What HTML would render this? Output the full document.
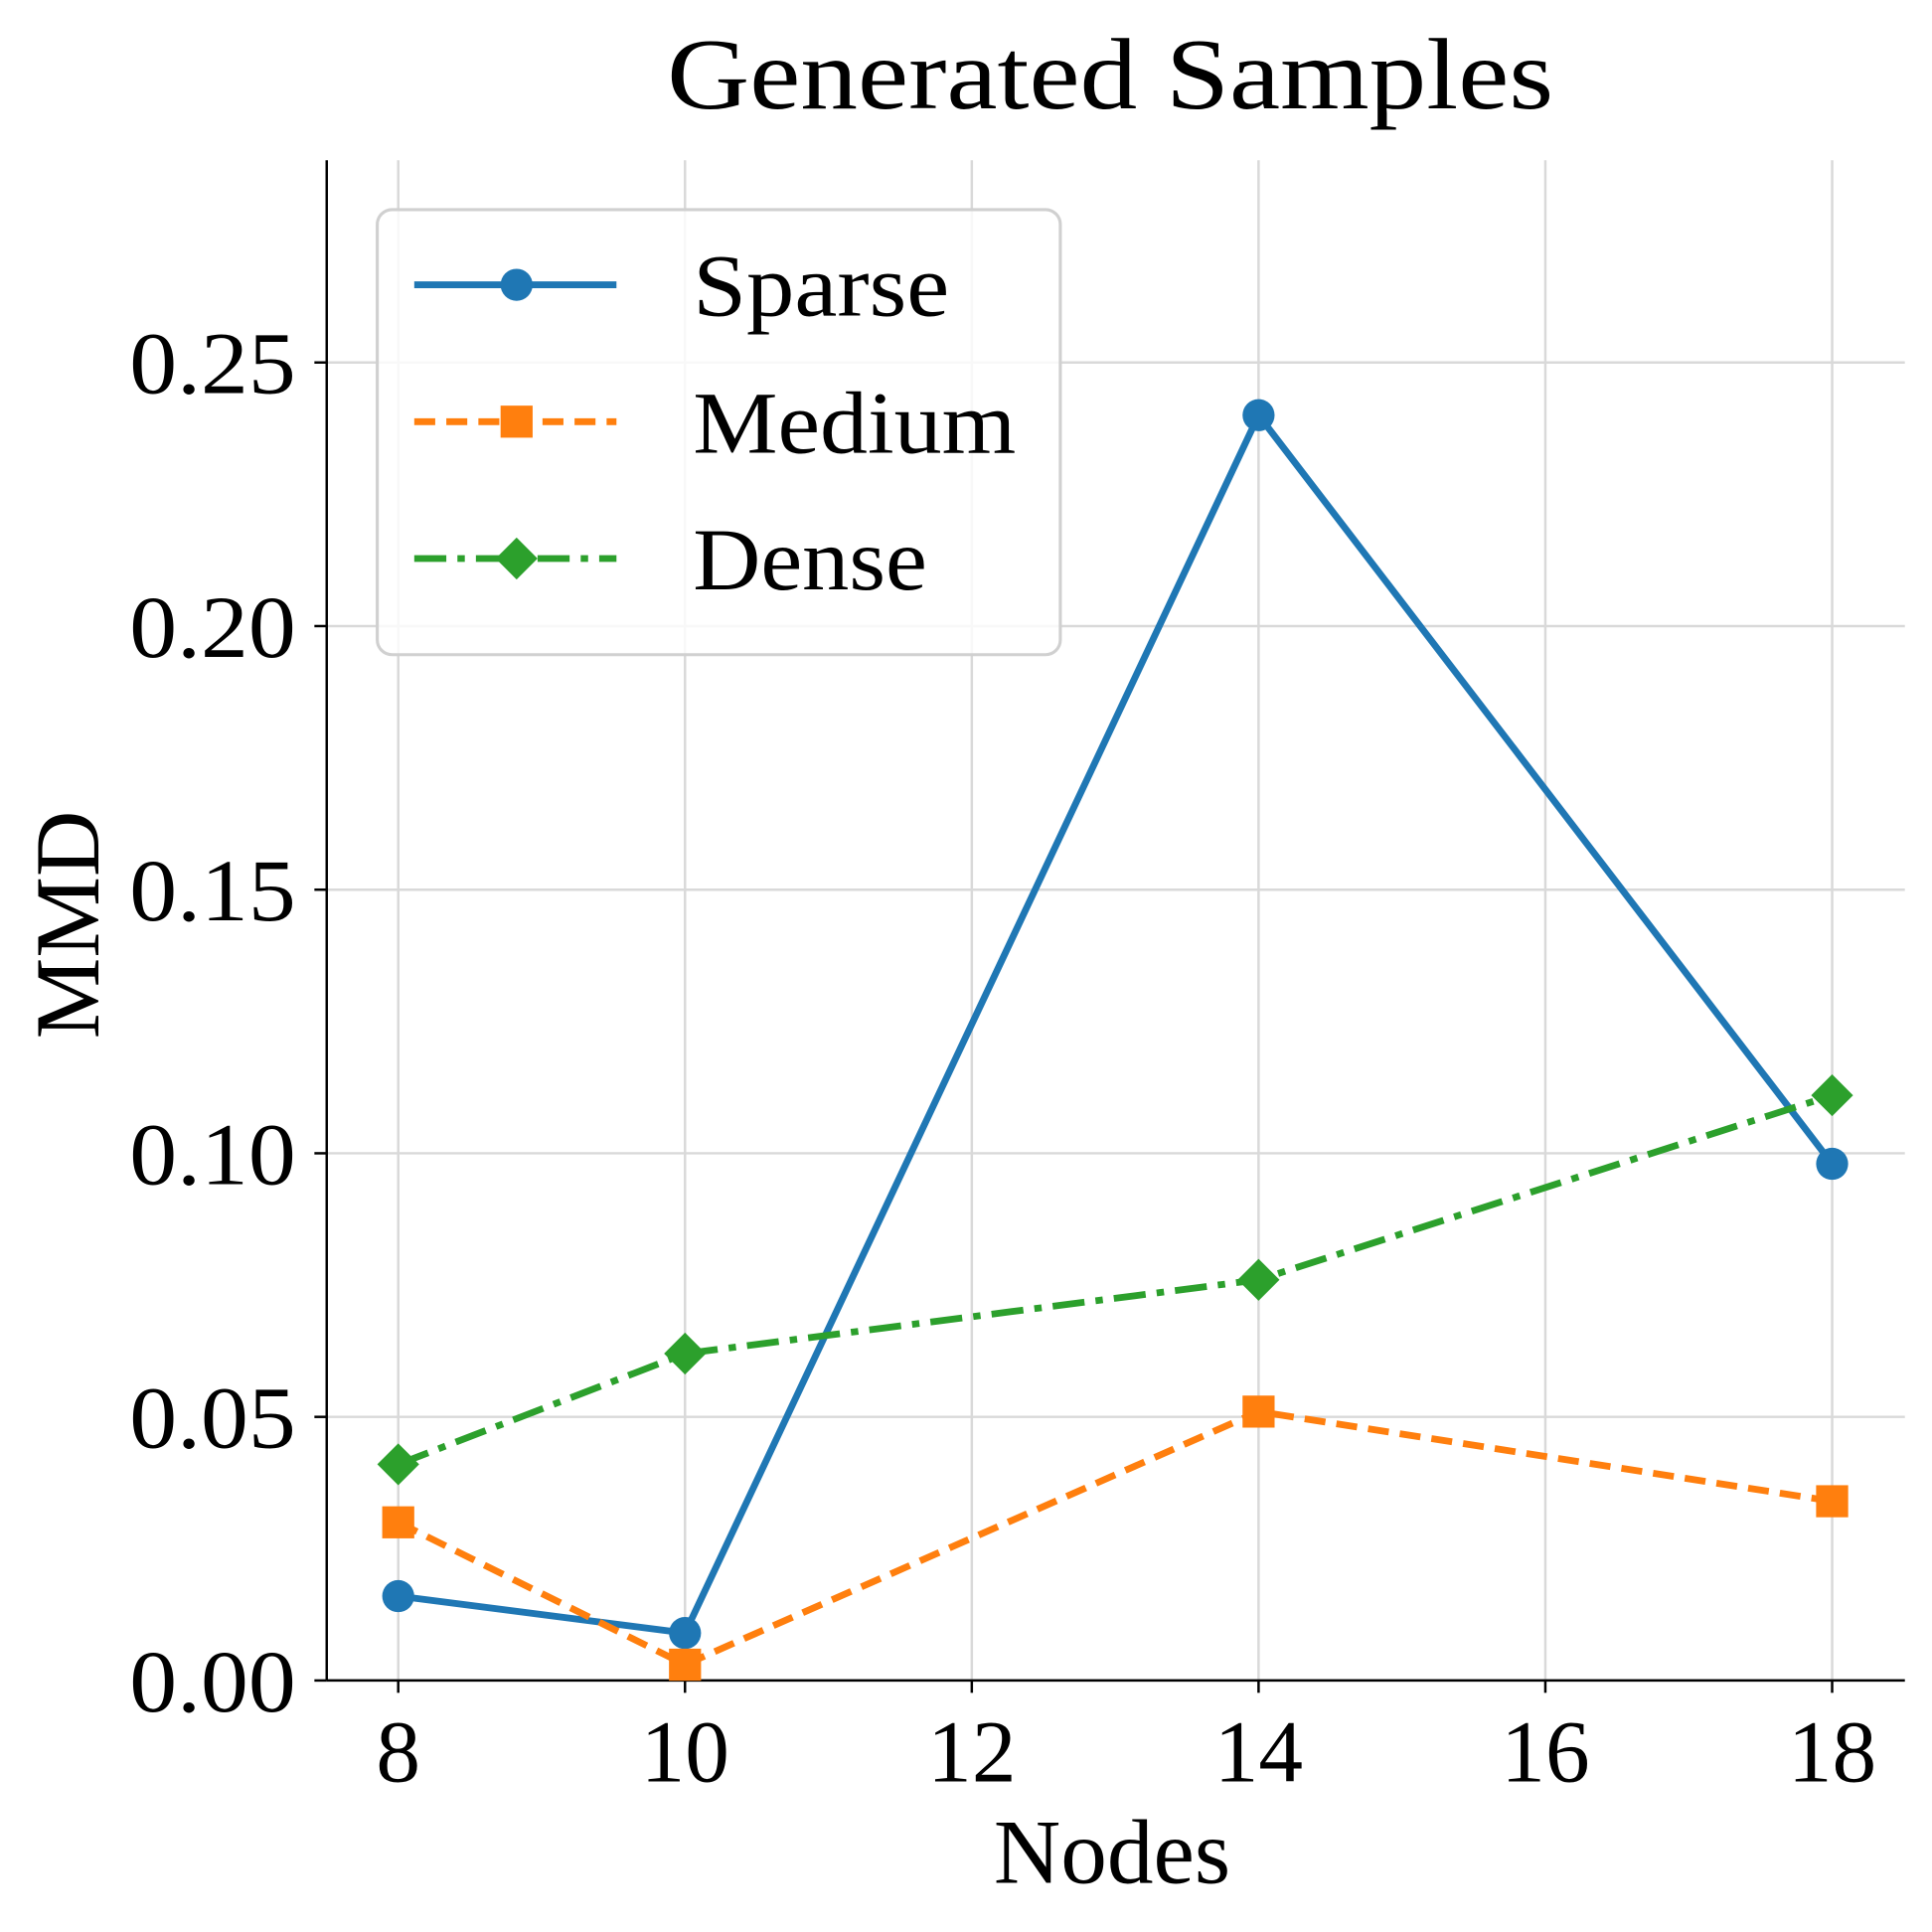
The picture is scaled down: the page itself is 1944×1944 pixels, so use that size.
<!DOCTYPE html>
<html><head><meta charset="utf-8"><style>
html,body{margin:0;padding:0;background:#fff}
svg{display:block}
text{font-family:"Liberation Serif",serif;fill:#000}
</style></head><body>
<svg id="chart" width="1944" height="1944" viewBox="0 0 1567 1567" xmlns="http://www.w3.org/2000/svg">
<rect width="1567" height="1567" fill="#fff"/>
<g id="grid"></g>
<g id="axes"></g>
<g id="series"></g>
<text x="541" y="88" font-size="82" textLength="719" lengthAdjust="spacingAndGlyphs">Generated Samples</text>
<text x="806" y="1527" font-size="74" textLength="192" lengthAdjust="spacingAndGlyphs">Nodes</text>
<text transform="translate(80,750) rotate(-90)" font-size="74" text-anchor="middle">MMD</text>
<g id="legend"></g>
</svg>
<script>
const categories=[8,10,14,18];
const sparse=[0.016,0.009,0.240,0.098];
const medium=[0.030,0.003,0.051,0.034];
const dense=[0.041,0.062,0.076,0.111];
const xTicks=[8,10,12,14,16,18];
const yTicks=[0,0.05,0.10,0.15,0.20,0.25];
const yTickLabels=["0.00","0.05","0.10","0.15","0.20","0.25"];
const seriesNames=["Sparse","Medium","Dense"];
const legendLens=[208,262,190];

const NS="http://www.w3.org/2000/svg";
const X0=265,X1=1545,Y0=1363,Y1=130;
const xs=v=>323+(v-8)*(1486-323)/10;
const ys=v=>1363-v*(1363-294)/0.25;
function mk(tag,attrs,parent){const e=document.createElementNS(NS,tag);for(const k in attrs)e.setAttribute(k,attrs[k]);parent.appendChild(e);return e;}
const grid=document.getElementById('grid'),axes=document.getElementById('axes'),ser=document.getElementById('series'),leg=document.getElementById('legend');
xTicks.forEach(t=>{
  const g=mk('line',{x1:xs(t),x2:xs(t),y1:Y1,y2:Y0,stroke:'#d9d9d9','stroke-width':2},grid);
  
  
  const tk=mk('line',{x1:xs(t),x2:xs(t),y1:Y0,y2:Y0+10,stroke:'#000','stroke-width':2},axes);
  
  
  const tx=mk('text',{x:xs(t),y:Y0+82,'font-size':72,'text-anchor':'middle'},axes);tx.textContent=t;
  
  
});
yTicks.forEach((t,i)=>{
  const g=mk('line',{x1:X0,x2:X1,y1:ys(t),y2:ys(t),stroke:'#d9d9d9','stroke-width':2},grid);
  
  
  const tk=mk('line',{x1:X0-10,x2:X0,y1:ys(t),y2:ys(t),stroke:'#000','stroke-width':2},axes);
  
  
  const tx=mk('text',{x:105,y:ys(t)+25,'font-size':72,textLength:135,lengthAdjust:'spacingAndGlyphs'},axes);tx.textContent=yTickLabels[i];
  
  
});
const sp1=mk('line',{x1:X0,x2:X0,y1:Y1,y2:Y0,stroke:'#000','stroke-width':2},axes);


const sp2=mk('line',{x1:X0,x2:X1,y1:Y0,y2:Y0,stroke:'#000','stroke-width':2},axes);



const cfg=[
 {vals:sparse,color:'#1f77b4',dash:'',marker:'circle'},
 {vals:medium,color:'#ff7f0e',dash:'17,9',marker:'square'},
 {vals:dense,color:'#2ca02c',dash:'26,9,6,9',marker:'diamond'}
];
function marker(type,x,y,color,parent){
  let m;
  if(type==='circle')m=mk('circle',{cx:x,cy:y,r:13,fill:color},parent);
  else if(type==='square')m=mk('rect',{x:x-13,y:y-13,width:26,height:26,fill:color},parent);
  else m=mk('polygon',{points:`${x},${y-17} ${x+17},${y} ${x},${y+17} ${x-17},${y}`,fill:color},parent);
  return m;
}
cfg.forEach((c,si)=>{
  const pts=c.vals.map((v,i)=>xs(categories[i])+','+ys(v)).join(' ');
  const pl=mk('polyline',{points:pts,fill:'none',stroke:c.color,'stroke-width':5.5,'stroke-dasharray':c.dash},ser);
  
  
  c.vals.forEach((v,i)=>{
    const m=marker(c.marker,xs(categories[i]),ys(v),c.color,ser);
    
    
  });
});
const box=mk('rect',{x:306,y:170,width:554,height:361,rx:12,fill:'rgba(255,255,255,0.8)',stroke:'#d0d0d0','stroke-width':2.5},leg);


cfg.forEach((c,si)=>{
  const y=231+si*111;
  const ln=mk('line',{x1:336,x2:500,y1:y,y2:y,stroke:c.color,'stroke-width':5.5,'stroke-dasharray':c.dash},leg);
  
  
  const m=marker(c.marker,419,y,c.color,leg);
  
  
  const t=mk('text',{x:562,y:y+25,'font-size':72,textLength:legendLens[si],lengthAdjust:'spacingAndGlyphs'},leg);t.textContent=seriesNames[si];
  
  
});
</script>
</body></html>
